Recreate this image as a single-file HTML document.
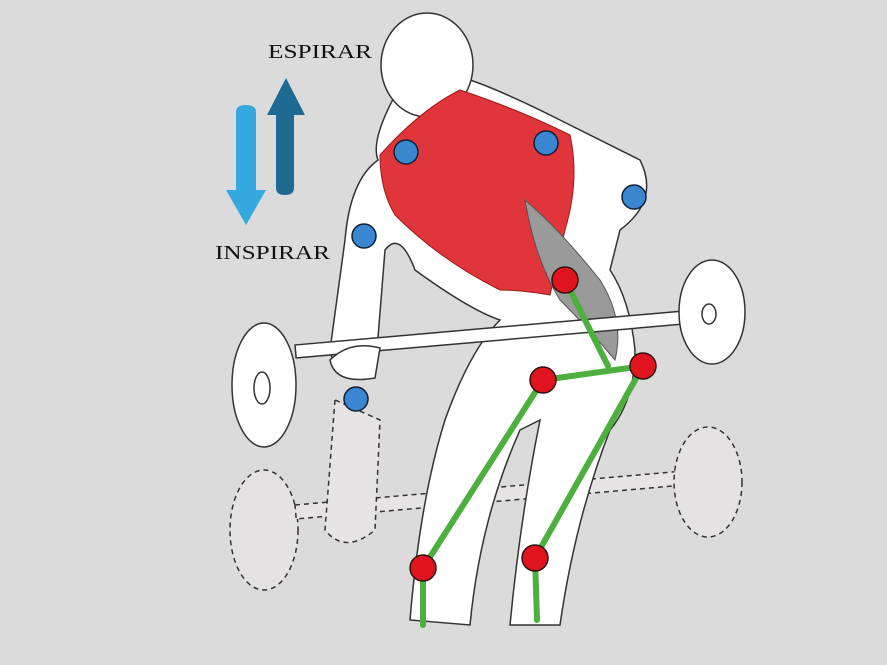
<!DOCTYPE html>
<html><head><meta charset="utf-8"><style>
html,body{margin:0;padding:0;background:#dcdbdb;}
svg{display:block}
</style></head><body>
<svg width="887" height="665" viewBox="0 0 887 665" xmlns="http://www.w3.org/2000/svg">
<rect width="887" height="665" fill="#dcdbdb"/>
<g stroke="#333" stroke-width="1.5" stroke-dasharray="5,4" fill="#dcdada">
 <ellipse cx="264" cy="530" rx="34" ry="60" fill="#e4e2e2"/>
 <rect x="295" y="505" width="420" height="14" transform="rotate(-5 295 505)" fill="#e6e4e4"/>
 <ellipse cx="708" cy="482" rx="34" ry="55" fill="#e4e2e2"/>
 <path d="M335 400 L325 530 Q345 555 375 530 L380 420Z" fill="#e6e4e4"/>
</g>
<path d="M398 90 Q370 140 378 160 Q350 180 345 240 L330 350 Q335 380 375 375 L385 250 Q400 230 415 270 Q470 310 500 320 Q470 350 445 420 Q420 500 410 620 L470 625 Q480 520 520 430 L540 420 Q520 520 510 625 L560 625 Q575 520 610 430 Q635 400 635 350 Q630 300 610 270 L620 230 Q660 200 640 160 Q600 140 560 120 Q500 90 470 80 Z" fill="#fff" stroke="#333" stroke-width="1.5"/>
<ellipse cx="427" cy="65" rx="46" ry="52" fill="#fff" stroke="#333" stroke-width="1.5"/>
<path d="M380 155 Q420 110 460 90 Q520 110 570 135 Q580 180 565 230 L550 295 Q520 290 500 290 Q440 260 395 215 Q380 190 380 155Z" fill="#e0353a" stroke="#9a1a1a" stroke-width="1"/>
<path d="M525 200 Q560 230 600 280 Q625 320 615 360 Q590 330 560 300 Q535 260 525 200Z" fill="#9a9a9a" stroke="#555" stroke-width="1"/>
<g stroke="#333" stroke-width="1.5">
 <rect x="295" y="345" width="420" height="13" transform="rotate(-5 295 345)" fill="#fff"/>
 <ellipse cx="264" cy="385" rx="32" ry="62" fill="#fff"/>
 <ellipse cx="262" cy="388" rx="8" ry="16" fill="#fff"/>
 <ellipse cx="712" cy="312" rx="33" ry="52" fill="#fff"/>
 <ellipse cx="709" cy="314" rx="7" ry="10" fill="#fff"/>
 <path d="M330 360 Q335 385 375 378 L380 348 Q350 340 330 360Z" fill="#fff"/>
</g>
<path d="M236,112 Q236,105 246,105 Q256,105 256,112 L256,190 L266,190 L246,225 L226,190 L236,190Z" fill="#35a8e0"/>
<path d="M276,188 Q276,195 285,195 Q294,195 294,188 L294,115 L305,115 L286,78 L267,115 L276,115Z" fill="#1d6b93"/>
<text x="268" y="58" font-family="Liberation Serif, serif" font-size="20" textLength="104" lengthAdjust="spacingAndGlyphs" fill="#111">ESPIRAR</text>
<text x="215" y="259" font-family="Liberation Serif, serif" font-size="20" textLength="115" lengthAdjust="spacingAndGlyphs" fill="#111">INSPIRAR</text>
<g stroke="#4caf3e" stroke-width="6" fill="none" stroke-linecap="round">
 <polyline points="565,280 608,366"/>
 <polyline points="543,380 643,366"/>
 <polyline points="543,380 423,568 423,625"/>
 <polyline points="643,366 535,558 537,620"/>
</g>
<g fill="#3a86d0" stroke="#123" stroke-width="1.5">
 <circle cx="406" cy="152" r="12"/><circle cx="546" cy="143" r="12"/><circle cx="634" cy="197" r="12"/><circle cx="364" cy="236" r="12"/><circle cx="356" cy="399" r="12"/>
</g>
<g fill="#e0141e" stroke="#311" stroke-width="1.5">
 <circle cx="565" cy="280" r="13"/><circle cx="543" cy="380" r="13"/><circle cx="643" cy="366" r="13"/><circle cx="423" cy="568" r="13"/><circle cx="535" cy="558" r="13"/>
</g>
</svg>
</body></html>
